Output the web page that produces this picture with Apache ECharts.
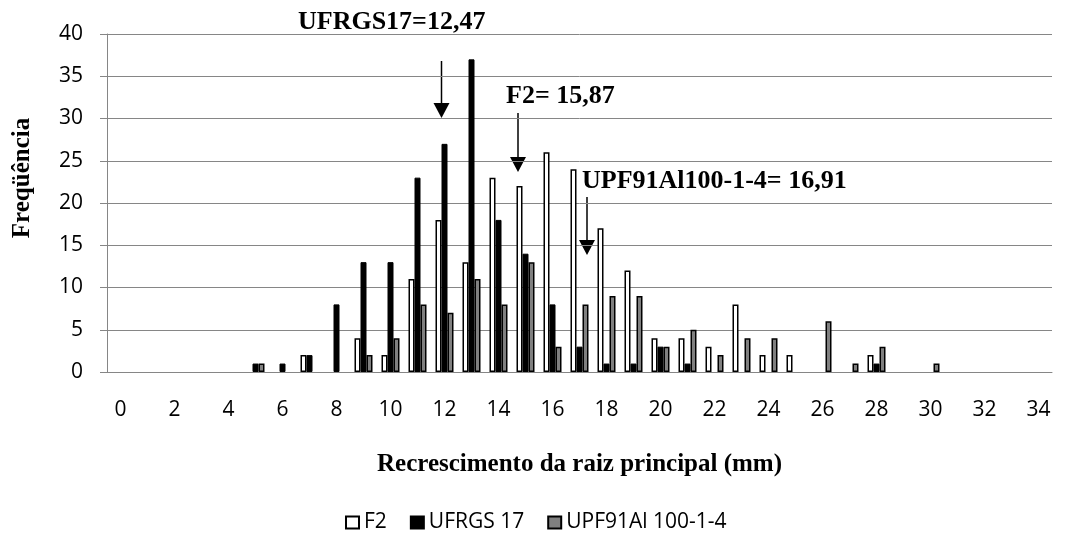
<!DOCTYPE html>
<html>
<head>
<meta charset="utf-8">
<script src="https://cdn.jsdelivr.net/npm/echarts@6/dist/echarts.min.js"></script>
<style>
  html, body { margin: 0; padding: 0; background: #fff; }
  #chart { width: 1067px; height: 540px; }
</style>
</head>
<body>
<div id="chart"></div>
<script>
// classes de recrescimento (mm)
const classes = [];
for (let i = 0; i <= 34; i++) classes.push(String(i));

// frequencias, classe 0..34
const f2 = [0,0,0,0,0,0,0,2,0,4, 2,11,18,13,23,22,26,24,17,12, 4,4,3,8,2,2,0,0,2,0, 0,0,0,0,0];
const ufrgs17 = [0,0,0,0,0,1,1,2,8,13, 13,23,27,37,18,14,8,3,1,1, 3,1,0,0,0,0,0,0,1,0, 0,0,0,0,0];
const upf91 = [0,0,0,0,0,1,0,0,0,2, 4,8,7,11,8,13,3,8,9,9, 3,5,2,4,4,0,6,1,3,0, 1,0,0,0,0];

const seriesNames = ['F2', 'UFRGS 17', 'UPF91Al 100-1-4'];

const serif = '"Liberation Serif", "Times New Roman", serif';
const sans = '"Open Sans", "Noto Sans", sans-serif';
const gridColor = '#868686';

// excel nao desenha barra com frequencia zero
function noZero(arr) {
    return arr.map(v => v === 0 ? '-' : v);
}

// seta com texto (anotacoes das medias)
function arrowNote(text, tx, ty, ax, y0, y1) {
    return [
        {
            type: 'text', x: tx, y: ty,
            style: { text: text, font: 'bold 26px ' + serif, fill: '#000', align: 'left', verticalAlign: 'middle' }
        },
        {
            type: 'line',
            shape: { x1: ax, y1: y0, x2: ax, y2: y1 - 14 },
            style: { stroke: '#000', lineWidth: 1.5 }
        },
        {
            type: 'polygon',
            shape: { points: [[ax - 8, y1 - 15], [ax + 8, y1 - 15], [ax, y1]] },
            style: { fill: '#000' }
        }
    ];
}

const chart = echarts.init(document.getElementById('chart'));
chart.setOption({
    animation: false,
    textStyle: { fontFamily: sans },
    grid: { left: 107, right: 15, top: 34, bottom: 168 },
    legend: {
        bottom: 2,
        left: 340,
        icon: 'rect',
        itemWidth: 13,
        itemHeight: 12,
        itemGap: 23,
        textStyle: { fontSize: 21, color: '#000', fontFamily: sans },
        data: seriesNames
    },
    xAxis: {
        type: 'category',
        data: classes,
        name: 'Recrescimento da raiz principal (mm)',
        nameLocation: 'middle',
        nameGap: 80,
        nameTextStyle: { fontFamily: serif, fontWeight: 'bold', fontSize: 25, color: '#000' },
        axisLine: { lineStyle: { color: gridColor } },
        axisTick: { interval: 0, length: 6, lineStyle: { color: gridColor } },
        axisLabel: { interval: 1, fontSize: 21, color: '#000', margin: 28 }
    },
    yAxis: {
        type: 'value',
        min: 0,
        max: 40,
        interval: 5,
        axisLine: { show: true, lineStyle: { color: gridColor } },
        axisTick: { show: true, length: 7, lineStyle: { color: gridColor } },
        axisLabel: { fontSize: 21, color: '#000', margin: 24 },
        splitLine: { lineStyle: { color: gridColor, width: 1 } }
    },
    series: [
        {
            name: seriesNames[0], type: 'bar', data: noZero(f2),
            barWidth: 6, barGap: '0%',
            itemStyle: { color: '#fff', borderColor: '#000', borderWidth: 1.5 }
        },
        {
            name: seriesNames[1], type: 'bar', data: noZero(ufrgs17),
            barWidth: 6, barGap: '0%',
            itemStyle: { color: '#000', borderColor: '#000', borderWidth: 1 }
        },
        {
            name: seriesNames[2], type: 'bar', data: noZero(upf91),
            barWidth: 6, barGap: '0%',
            itemStyle: { color: '#808080', borderColor: '#000', borderWidth: 1.5 }
        }
    ],
    graphic: [
        {
            type: 'text', rotation: Math.PI / 2,
            x: 23, y: 178,
            style: { text: 'Freqüência', font: 'bold 25px ' + serif, fill: '#000', align: 'center', verticalAlign: 'middle' }
        }
    ].concat(
        arrowNote('UFRGS17=12,47', 298, 22, 441.5, 61, 118),
        arrowNote('F2= 15,87', 506, 96, 518, 113, 172),
        arrowNote('UPF91Al100-1-4= 16,91', 582, 181, 587, 197, 255)
    )
});
</script>
</body>
</html>
